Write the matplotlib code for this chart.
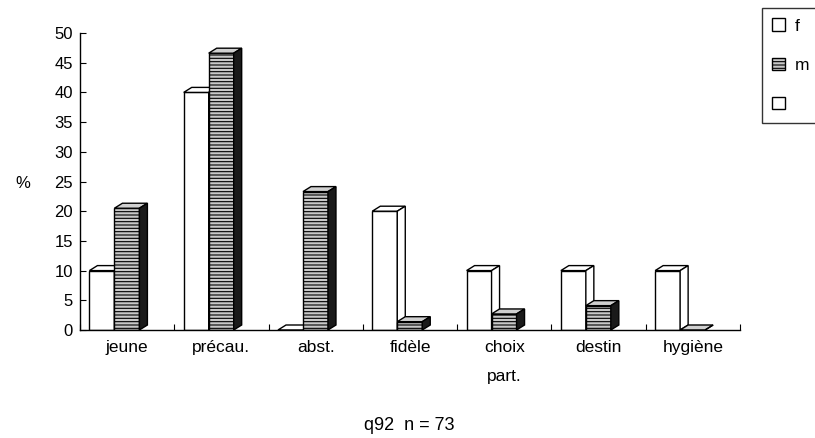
import numpy as np
import matplotlib
matplotlib.use("Agg")
import matplotlib.pyplot as plt
from matplotlib.patches import Polygon, Patch

plt.rcParams['font.family'] = ['Liberation Sans', 'DejaVu Sans']

categories = ["jeune", "précau.", "abst.", "fidèle", "choix\npart.", "destin", "hygiène"]
f_vals = [10, 40, 0, 20, 10, 10, 10]
m_vals = [20.5, 46.6, 23.3, 1.4, 2.7, 4.1, 0]

fig = plt.figure(figsize=(8.15, 4.38), dpi=100)
ax = fig.add_axes([80 / 815, 1 - 330 / 438, 660 / 815, 297 / 438])
ax.set_xlim(0, 7)
ax.set_ylim(0, 50)

# depth of the fake 3d bars, in pixels -> data units
px_x = ax.transData.transform((1, 0))[0] - ax.transData.transform((0, 0))[0]
px_y = ax.transData.transform((0, 1))[1] - ax.transData.transform((0, 0))[1]
dx = 8 / px_x
dy = 5 / px_y

w = 0.265
x = np.arange(len(categories))


def bar3d(x0, h, front, top, side, hatch=None):
    ax.bar(x0, h, width=w, align='edge', color=front, edgecolor='black',
           linewidth=1.0, hatch=hatch, zorder=2)
    x1 = x0 + w
    ax.add_patch(Polygon([(x0, h), (x1, h), (x1 + dx, h + dy), (x0 + dx, h + dy)],
                         closed=True, facecolor=top, edgecolor='black', lw=1.0,
                         zorder=2, clip_on=False))
    ax.add_patch(Polygon([(x1, 0), (x1 + dx, dy), (x1 + dx, h + dy), (x1, h)],
                         closed=True, facecolor=side, edgecolor='black', lw=1.0,
                         zorder=2, clip_on=False))


plt.rcParams['hatch.color'] = '#555555'
plt.rcParams['hatch.linewidth'] = 0.8
for i in range(len(categories)):
    bar3d(x[i] + 0.1, f_vals[i], 'white', 'white', 'white')
    bar3d(x[i] + 0.1 + w, m_vals[i], '#c8c8c8', '#d0d0d0', '#1a1a1a', hatch='-----')

ax.spines['top'].set_visible(False)
ax.spines['right'].set_visible(False)
ax.spines['left'].set_linewidth(1.0)
ax.spines['bottom'].set_linewidth(1.0)

ax.set_yticks(np.arange(0, 55, 5))
ax.tick_params(axis='y', direction='in', length=4, labelsize=12, pad=5)
ax.set_xticks(np.arange(0, 8))
ax.set_xticklabels([])
ax.tick_params(axis='x', direction='in', length=4)
ax.set_xticks(x + 0.5, minor=True)
ax.set_xticklabels(categories, minor=True, fontsize=12.5, va='top', linespacing=2.2)
ax.tick_params(axis='x', which='minor', length=0, pad=7)

fig.text(23 / 815, 1 - 183 / 438, "%", fontsize=12, ha='center', va='center')
fig.text(409 / 815, 1 - 425 / 438, "q92  n = 73", fontsize=13, ha='center', va='center')

handles = [Patch(facecolor='white', edgecolor='black'),
           Patch(facecolor='#c8c8c8', edgecolor='black', hatch='-----'),
           Patch(facecolor='white', edgecolor='black')]
leg = fig.legend(handles, ['f', 'm', ''], loc='upper left',
                 bbox_to_anchor=(762 / 815, 1 - 8 / 438), fontsize=12.5,
                 frameon=True, fancybox=False, edgecolor='black',
                 handlelength=0.7, handleheight=0.7, handletextpad=0.6,
                 labelspacing=1.4, borderpad=0.6, borderaxespad=0)
leg.get_frame().set_linewidth(1.0)

fig.savefig("out.png", dpi=100)
